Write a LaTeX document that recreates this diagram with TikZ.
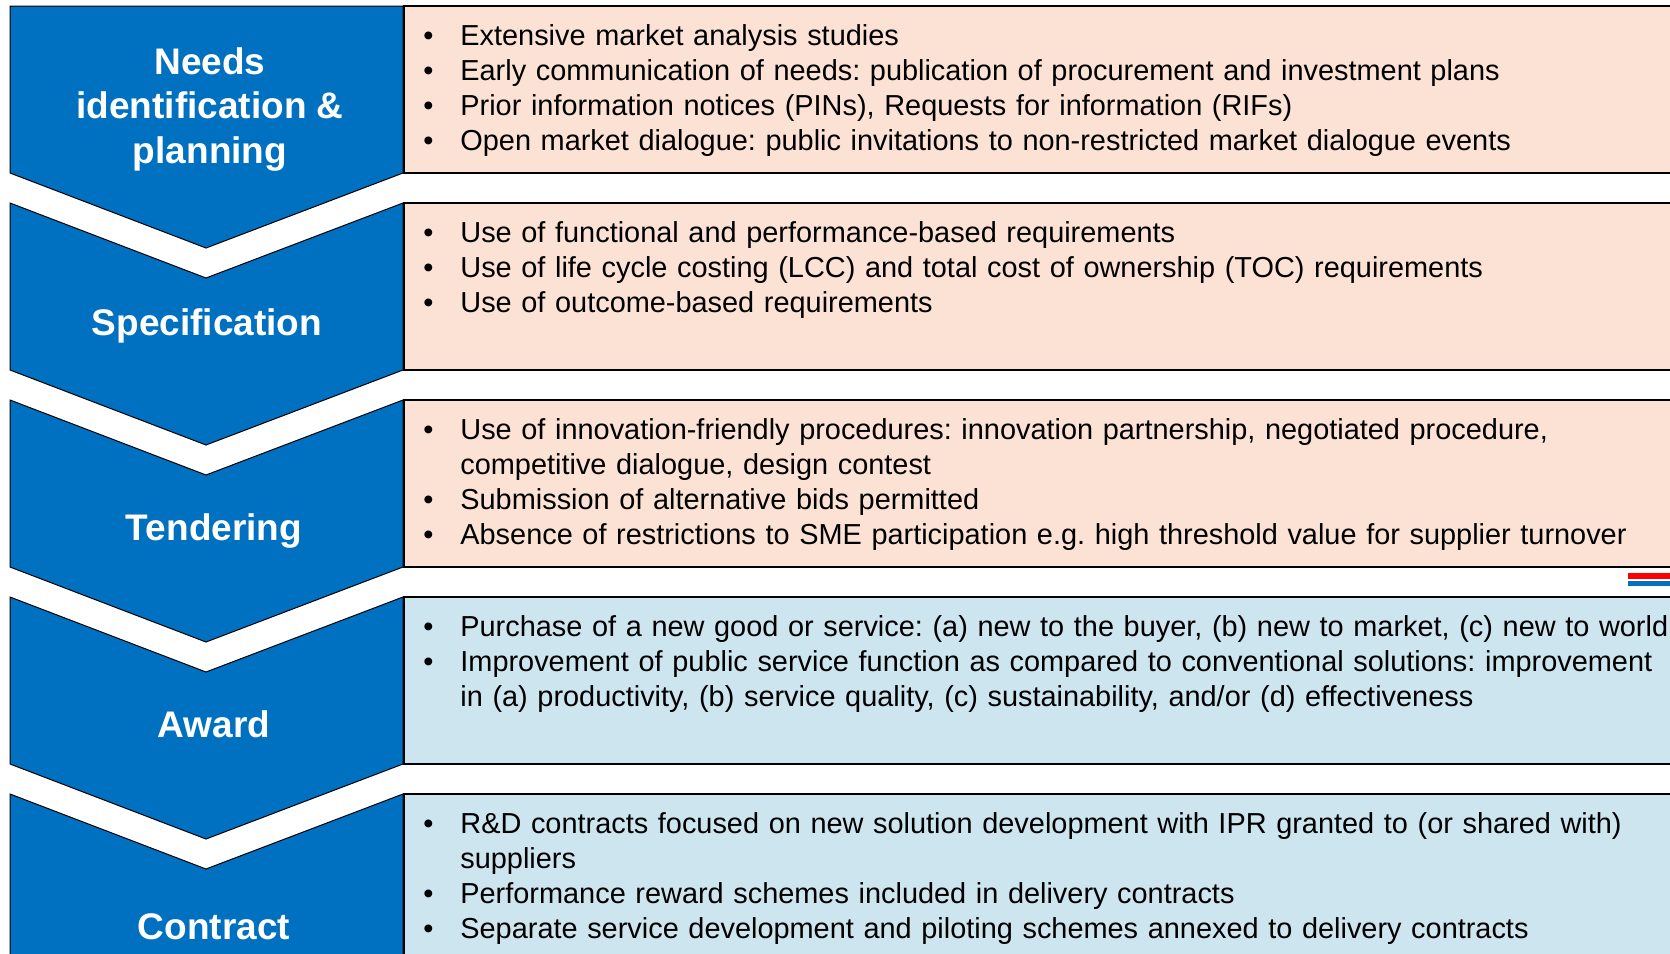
\documentclass[tikz,border=0pt]{standalone}
\usepackage{fontspec}
\setmainfont{Liberation Sans}
\usetikzlibrary{positioning}
\definecolor{stageblue}{RGB}{0,112,192}
\definecolor{peach}{RGB}{252,226,212}
\definecolor{paleblue}{RGB}{205,229,238}
\frenchspacing
\newcommand{\bitem}{\par\noindent\hangindent=18.5pt\hangafter=1\makebox[18.5pt][l]{\textbullet}\strut}

\begin{document}
\begin{tikzpicture}[
  x=0.5pt, y=-0.5pt,
  stage/.style={draw=black, fill=stageblue, line width=0.5pt},
  stagelabel/.style={text=white, align=center, inner sep=0pt,
                     font=\fontsize{18.5}{22.4}\selectfont\bfseries},
  bullets/.style={anchor=north west, inner sep=0pt, text width=640pt, align=left,
                  font=\fontsize{14.45}{17.6}\selectfont},
  peachbox/.style={draw=black, fill=peach, line width=0.9pt},
  bluebox/.style={draw=black, fill=paleblue, line width=0.9pt}
]
  \useasboundingbox (0,0) rectangle (1670,953);
  \clip (0,0) rectangle (1670,953);

  % text panels
  \draw[peachbox] (404,6) rectangle (1700,173);
  \draw[peachbox] (404,203) rectangle (1700,370);
  \draw[peachbox] (404,400) rectangle (1700,567);
  \draw[bluebox] (404,597) rectangle (1700,764);
  \draw[bluebox] (404,794) rectangle (1700,961);

  % chevrons
  \draw[stage] (10,6) -- (403,6) -- (403,173) -- (206,248) -- (10,173) -- cycle;
  \draw[stage] (10,203) -- (206,278) -- (403,203) -- (403,370) -- (206,445) -- (10,370) -- cycle;
  \draw[stage] (10,400) -- (206,475) -- (403,400) -- (403,567) -- (206,642) -- (10,567) -- cycle;
  \draw[stage] (10,597) -- (206,672) -- (403,597) -- (403,764) -- (206,839) -- (10,764) -- cycle;
  \draw[stage] (10,794) -- (206,869) -- (403,794) -- (403,961) -- (206,1036) -- (10,961) -- cycle;

  \node[stagelabel] (needs) at (210,109.5) {Needs\\identification \&\\planning};
  \node[stagelabel] (spec) at (207,326) {Specification};
  \node[stagelabel] (tender) at (214,531) {Tendering};
  \node[stagelabel] (award) at (214,724) {Award};
  \node[stagelabel] (contract) at (214,927) {Contract};

  \node[bullets] (needslist) at (423,9.5) {%
    \bitem Extensive market analysis studies
    \bitem Early communication of needs: publication of procurement and investment plans
    \bitem Prior information notices (PINs), Requests for information (RIFs)
    \bitem Open market dialogue: public invitations to non-restricted market dialogue events\par};
  \node[bullets] (speclist) at (423,206.5) {%
    \bitem Use of functional and performance-based requirements
    \bitem Use of life cycle costing (LCC) and total cost of ownership (TOC) requirements
    \bitem Use of outcome-based requirements\par};
  \node[bullets] (tenderlist) at (423,403.5) {%
    \bitem Use of innovation-friendly procedures: innovation partnership, negotiated procedure,\newline
      competitive dialogue, design contest
    \bitem Submission of alternative bids permitted
    \bitem Absence of restrictions to SME participation e.g. high threshold value for supplier turnover\par};
  \node[bullets] (awardlist) at (423,600.5) {%
    \bitem Purchase of a new good or service: (a) new to the buyer, (b) new to market, (c) new to world
    \bitem Improvement of public service function as compared to conventional solutions: improvement\newline
      in (a) productivity, (b) service quality, (c) sustainability, and/or (d) effectiveness\par};
  \node[bullets] (contractlist) at (423,797.5) {%
    \bitem R\&D contracts focused on new solution development with IPR granted to (or shared with)\newline
      suppliers
    \bitem Performance reward schemes included in delivery contracts
    \bitem Separate service development and piloting schemes annexed to delivery contracts\par};

  % flag strokes at the right edge
  \draw[red, line width=3pt] (1628,576) -- (1700,576);
  \draw[stageblue, line width=2.5pt] (1628,583.5) -- (1700,583.5);
\end{tikzpicture}
\end{document}
